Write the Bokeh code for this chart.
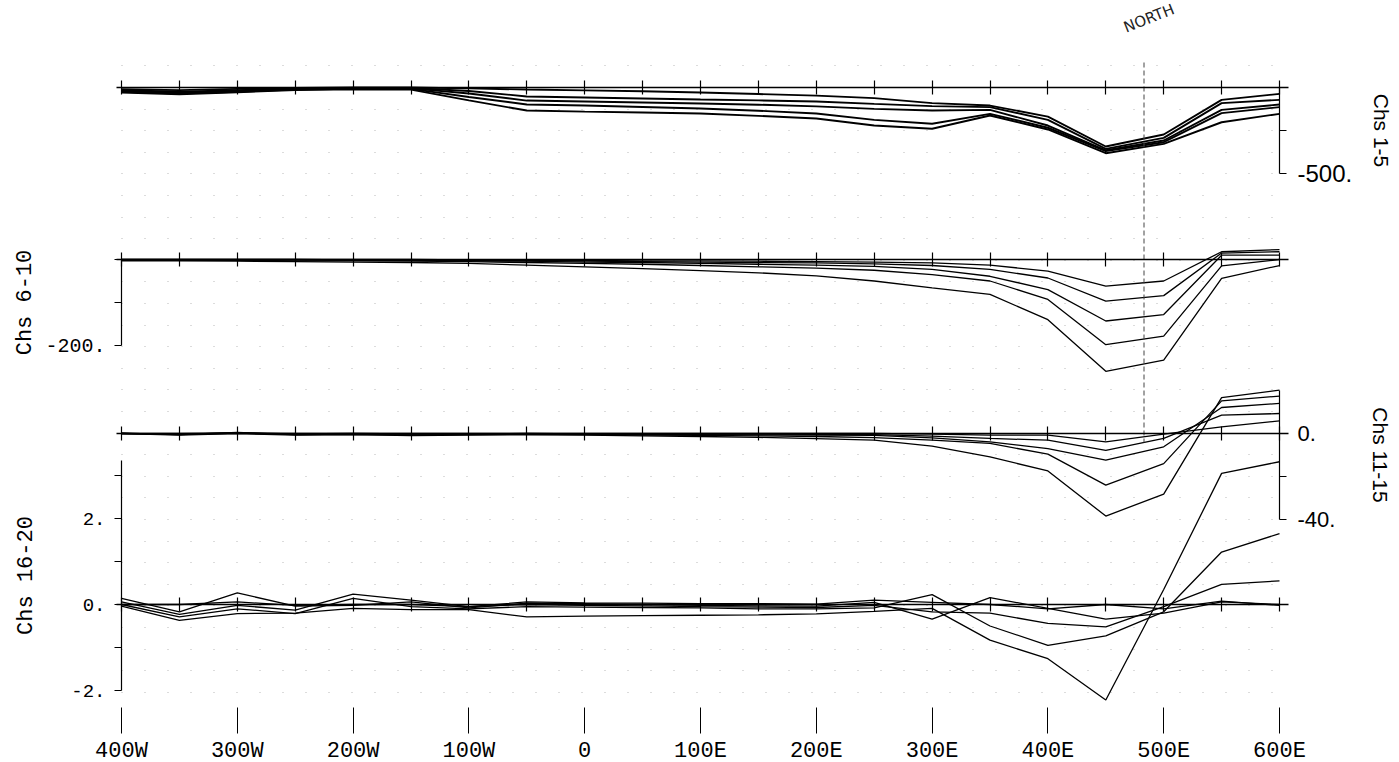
from bokeh.plotting import figure
from bokeh.models import Range1d, LinearAxis, FixedTicker, Grid, Label
from bokeh.embed import file_html
from bokeh.resources import INLINE

# ---------------- data ----------------
stations = [-400, -350, -300, -250, -200, -150, -100, -50, 0, 50, 100,
            150, 200, 250, 300, 350, 400, 450, 500, 550, 600]

x_tick_values = [-400, -300, -200, -100, 0, 100, 200, 300, 400, 500, 600]
x_tick_labels = ["400W", "300W", "200W", "100W", "0", "100E", "200E",
                 "300E", "400E", "500E", "600E"]

north_station = 483

# Chs 1-5
ch1 = [-10, -15, -8, -3, 0, 0, -5, -12, -17, -22, -29, -38, -47, -62, -91, -105, -169, -343, -273, -72, -37]
ch2 = [-15, -25, -15, -8, -3, -3, -20, -52, -58, -64, -70, -75, -81, -95, -108, -114, -188, -357, -293, -91, -72]
ch3 = [-20, -30, -20, -10, -5, -5, -35, -76, -81, -87, -93, -100, -110, -124, -134, -130, -221, -365, -308, -130, -99]
ch4 = [-25, -35, -25, -12, -8, -8, -55, -99, -105, -113, -122, -135, -151, -188, -211, -153, -234, -370, -318, -149, -114]
ch5 = [-30, -40, -28, -15, -10, -12, -75, -134, -140, -145, -151, -165, -180, -221, -240, -163, -244, -382, -328, -202, -153]

# Chs 6-10
ch6 = [0, 0, 0, 0, 0, 0, -1, -2, -2, -3, -3, -4, -5, -6, -8, -13, -27, -62, -50, 18, 23]
ch7 = [0, 0, 0, 0, -1, -1, -2, -3, -4, -5, -6, -7, -8, -10, -14, -23, -43, -97, -84, 15, 18]
ch8 = [-1, -1, -1, -1, -2, -2, -3, -4, -6, -7, -9, -11, -13, -16, -23, -39, -70, -143, -128, 10, 10]
ch9 = [-2, -2, -2, -3, -3, -4, -5, -7, -9, -11, -14, -17, -20, -25, -35, -50, -93, -198, -178, -15, 0]
ch10 = [-3, -3, -4, -5, -6, -7, -9, -13, -17, -21, -26, -31, -38, -50, -66, -81, -140, -260, -234, -44, -14]

# Chs 11-15
ch11 = [0, 0, 0.3, 0, 0, 0, 0, 0, 0, 0, 0, 0, 0, 0, -0.3, -0.8, -0.8, -3.9, -0.3, 3.1, 5.9]
ch12 = [0, -0.3, 0.3, -0.2, 0, -0.2, -0.2, 0, -0.2, -0.2, -0.3, -0.3, -0.4, -0.5, -1.2, -2.3, -3.1, -7.8, -2.3, 8.5, 9.3]
ch13 = [0, -0.5, 0.5, -0.5, -0.3, -0.3, -0.3, -0.2, -0.3, -0.4, -0.5, -0.6, -0.7, -0.9, -2.0, -3.9, -7.0, -12.4, -6.2, 12.1, 14.0]
ch14 = [0.2, -0.5, 0.2, -0.5, -0.5, -0.7, -0.5, -0.3, -0.5, -0.7, -0.9, -1.1, -1.4, -1.9, -3.1, -4.6, -9.6, -24.0, -14.0, 15.2, 17.4]
ch15 = [0, -0.8, 0, -0.8, -0.5, -1.0, -0.8, -0.6, -0.8, -1.1, -1.4, -1.8, -2.4, -3.1, -5.9, -10.9, -17.4, -38.4, -28.2, 16.7, 20.2]

# Chs 16-20
ch16 = [0, 0, 0.06, -0.02, 0.0, 0.0, -0.05, 0.06, 0.04, 0.03, 0.02, 0.02, 0.01, 0.1, 0.05, 0, -0.1, 0, -0.1, 0.08, -0.02]
ch17 = [0.14, -0.17, 0.27, -0.04, -0.02, 0.06, -0.08, 0.03, 0.02, 0.0, -0.02, -0.03, -0.04, 0.05, -0.34, 0.16, -0.09, -0.34, -0.2, 0.06, 0]
ch18 = [0.06, -0.23, -0.02, -0.13, 0.24, 0.1, -0.05, 0.0, -0.02, -0.03, -0.05, -0.06, -0.07, -0.02, -0.17, -0.2, -0.44, -0.52, -0.05, 0.47, 0.55]
ch19 = [0, -0.29, -0.1, -0.21, 0.14, -0.05, -0.1, -0.05, -0.06, -0.07, -0.08, -0.1, -0.1, -0.08, 0.23, -0.5, -0.95, -0.73, -0.17, 1.22, 1.65]
ch20 = [-0.04, -0.37, -0.21, -0.2, -0.09, -0.12, -0.12, -0.29, -0.27, -0.26, -0.25, -0.24, -0.22, -0.16, -0.09, -0.83, -1.26, -2.22, 0.35, 3.05, 3.32]

# ---------------- layout ----------------
W, H = 1399, 762
X0_PX, X1_PX = 121, 1279
KX = (X1_PX - X0_PX) / 1000.0

p = figure(width=W, height=H, output_backend="svg", toolbar_location=None,
           x_axis_type=None, y_axis_type=None, min_border=0, title=None,
           x_range=Range1d(-400 - X0_PX / KX, 600 + (W - X1_PX) / KX),
           y_range=Range1d(H, 0))
p.outline_line_color = None
p.background_fill_color = "white"
p.border_fill_color = "white"


def prange(base_px, px_per_unit):
    return Range1d(start=(base_px - H) / px_per_unit, end=base_px / px_per_unit)


p.extra_y_ranges = {
    "p1": prange(87, 86 / 500),
    "p2": prange(259, 86 / 200),
    "p3": prange(433, 86 / 40),
    "p4": prange(604, 43),
}

# dotted background grid
rows = [87 + 21.6 * i for i in range(-1, 29)]
g = Grid(dimension=1, ticker=FixedTicker(ticks=rows), grid_line_color="#9a9a9a",
         grid_line_dash="1 22", grid_line_alpha=0.7, grid_line_width=1)
try:
    g.cross_bounds = (-400, 600)
    g.grid_line_dash_offset = 0
except Exception:
    g.grid_line_dash_offset = 17
p.add_layout(g)

# data lines
panel_series = [
    ("p1", [ch1, ch2, ch3, ch4, ch5], 1.9),
    ("p2", [ch6, ch7, ch8, ch9, ch10], 1.3),
    ("p3", [ch11, ch12, ch13, ch14, ch15], 1.3),
    ("p4", [ch16, ch17, ch18, ch19, ch20], 1.3),
]
for name, series, lw in panel_series:
    for ys in series:
        p.line(stations, ys, y_range_name=name, line_color="black", line_width=lw)

# baselines with station ticks
for name, _, _ in panel_series:
    ax = LinearAxis(y_range_name=name, fixed_location=0, bounds=(-404, 608),
                    ticker=FixedTicker(ticks=stations),
                    major_tick_in=7, major_tick_out=7, minor_tick_line_color=None,
                    axis_line_width=1.5, axis_line_color="black",
                    major_tick_line_width=1.2, major_tick_line_color="black",
                    major_label_overrides={s: "" for s in stations})
    p.add_layout(ax, "below")


def vaxis(name, side, loc, bounds, ticks, labels, title, lfont, lsize, tfont, tsize,
          lstand, tstand):
    ax = LinearAxis(y_range_name=name, fixed_location=loc, bounds=bounds,
                    ticker=FixedTicker(ticks=ticks),
                    major_label_overrides=dict(zip(ticks, labels)),
                    major_tick_in=0, major_tick_out=7, minor_tick_line_color=None,
                    axis_line_width=1.2, axis_line_color="black",
                    major_tick_line_color="black",
                    major_label_standoff=lstand,
                    major_label_text_font=lfont, major_label_text_font_size=lsize,
                    major_label_text_color="black",
                    axis_label=title, axis_label_text_font=tfont,
                    axis_label_text_font_size=tsize, axis_label_text_font_style="normal",
                    axis_label_text_color="black", axis_label_standoff=tstand)
    p.add_layout(ax, side)


vaxis("p1", "right", 600, (-500, 0), [-500, -250, 0], ["-500.", "", ""], "Chs 1-5",
      "Liberation Sans", "24px", "Liberation Sans", "21px", 11, 15)
vaxis("p2", "left", -400, (-200, 0), [-200, -100, 0], ["-200.", "", ""], "Chs 6-10",
      "Liberation Mono", "20px", "Liberation Mono", "22px", 9, 4)
vaxis("p3", "right", 600, (-40, 20), [-40, -20, 0], ["-40.", "", "0."], "Chs 11-15",
      "Liberation Sans", "22px", "Liberation Sans", "21px", 11, 31)
vaxis("p4", "left", -400, (-2, 3.35), [-2, -1, 0, 1, 2, 3], ["-2.", "", "0.", "", "2.", ""],
      "Chs 16-20", "Liberation Mono", "19px", "Liberation Mono", "22px", 9, 29)

# bottom station axis (ticks + labels, no line)
xa = LinearAxis(fixed_location=733, ticker=FixedTicker(ticks=x_tick_values),
                major_label_overrides=dict(zip(x_tick_values, x_tick_labels)),
                axis_line_color=None, major_tick_in=26, major_tick_out=0,
                major_tick_line_color="black", minor_tick_line_color=None,
                major_label_standoff=5, major_label_text_font="Liberation Mono",
                major_label_text_font_size="22px", major_label_text_color="black")
p.add_layout(xa, "below")

# NORTH marker
p.segment(x0=[north_station], y0=[62], x1=[north_station], y1=[442],
          line_color="#444444", line_width=1, line_dash="5 3")
p.add_layout(Label(x=north_station - 14, y=36, text="NORTH", angle=0.38,
                   text_font="DejaVu Sans", text_font_size="15px", text_color="#222222"))

open("out.html", "w").write(file_html(p, INLINE))
